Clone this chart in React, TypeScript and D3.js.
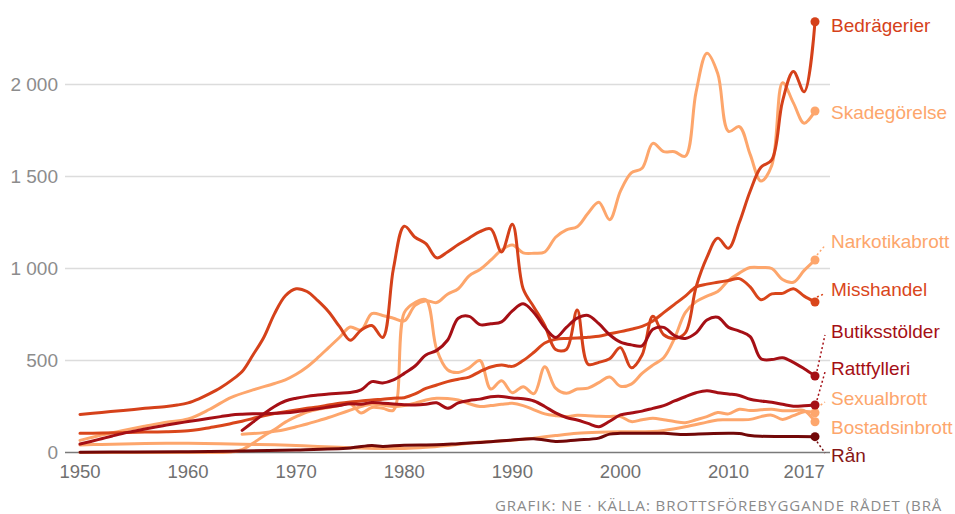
import React from "react";
import * as d3 from "d3";

// ---- Data (brott per 100 000 invånare) ----
const bedragerier: [number, number][] = [
  [1950, 207], [1952, 218], [1954, 228], [1956, 240], [1958, 250], [1959, 258], [1960, 270],
  [1961, 292], [1962, 320], [1963, 352], [1964, 392], [1965, 440], [1966, 530], [1967, 625],
  [1968, 755], [1969, 852], [1970, 890], [1971, 875], [1972, 825], [1973, 765], [1974, 685],
  [1975, 610], [1976, 665], [1977, 690], [1978, 625], [1979, 1000], [1980, 1230], [1981, 1170],
  [1982, 1135], [1983, 1058], [1984, 1090], [1985, 1130], [1986, 1165], [1987, 1200], [1988, 1215],
  [1989, 1090], [1990, 1240], [1991, 890], [1992, 790], [1993, 690], [1994, 560], [1995, 560],
  [1996, 775], [1997, 480], [1998, 490], [1999, 510], [2000, 570], [2001, 460], [2002, 530],
  [2003, 740], [2004, 640], [2005, 620], [2006, 650], [2007, 900], [2008, 1060], [2009, 1165],
  [2010, 1110], [2011, 1250], [2012, 1420], [2013, 1550], [2014, 1590], [2015, 1910], [2016, 2070],
  [2017, 1960], [2018, 2341],
];

const skadegorelse: [number, number][] = [
  [1950, 66], [1952, 95], [1954, 120], [1956, 143], [1958, 165], [1960, 182], [1962, 235],
  [1964, 300], [1966, 340], [1968, 375], [1969, 395], [1970, 425], [1971, 465], [1972, 515],
  [1973, 570], [1974, 625], [1975, 682], [1976, 665], [1977, 755], [1978, 745], [1979, 730],
  [1980, 715], [1981, 800], [1982, 825], [1983, 815], [1984, 860], [1985, 890], [1986, 960],
  [1987, 995], [1988, 1045], [1989, 1100], [1990, 1128], [1991, 1085], [1992, 1083], [1993, 1090],
  [1994, 1170], [1995, 1210], [1996, 1227], [1997, 1300], [1998, 1360], [1999, 1265], [2000, 1420],
  [2001, 1520], [2002, 1545], [2003, 1680], [2004, 1635], [2005, 1635], [2006, 1610], [2007, 1960],
  [2008, 2170], [2009, 2060], [2010, 1745], [2011, 1771], [2012, 1620], [2013, 1475], [2014, 1560],
  [2015, 2010], [2016, 1900], [2017, 1790], [2018, 1856],
];

const narkotikabrott: [number, number][] = [
  [1950, 0], [1955, 0], [1960, 0], [1963, 0], [1964, 3], [1965, 15], [1966, 50], [1967, 90],
  [1968, 125], [1969, 165], [1970, 195], [1971, 220], [1972, 235], [1973, 245], [1974, 255],
  [1975, 265], [1976, 215], [1977, 245], [1978, 240], [1979, 230], [1980, 760], [1981, 815],
  [1982, 830], [1983, 560], [1984, 450], [1985, 435], [1986, 460], [1987, 500], [1988, 345],
  [1989, 390], [1990, 325], [1991, 358], [1992, 320], [1993, 466], [1994, 350], [1995, 322],
  [1996, 345], [1997, 350], [1998, 380], [1999, 410], [2000, 360], [2001, 372], [2002, 430],
  [2003, 475], [2004, 515], [2005, 620], [2006, 760], [2007, 820], [2008, 850], [2009, 875],
  [2010, 935], [2011, 975], [2012, 1005], [2013, 1005], [2014, 1000], [2015, 940], [2016, 925],
  [2017, 990], [2018, 1046],
];

const misshandel: [number, number][] = [
  [1950, 104], [1952, 106], [1954, 108], [1956, 111], [1958, 113], [1960, 118], [1961, 125],
  [1962, 135], [1963, 145], [1964, 158], [1965, 170], [1966, 185], [1967, 200], [1968, 212],
  [1969, 222], [1970, 231], [1971, 240], [1972, 248], [1973, 258], [1974, 268], [1975, 275],
  [1976, 280], [1977, 286], [1978, 290], [1979, 295], [1980, 298], [1981, 318], [1982, 348],
  [1983, 367], [1984, 385], [1985, 398], [1986, 410], [1987, 440], [1988, 465], [1989, 476],
  [1990, 468], [1991, 500], [1992, 545], [1993, 595], [1994, 615], [1995, 620], [1996, 622],
  [1997, 627], [1998, 632], [1999, 645], [2000, 657], [2001, 670], [2002, 685], [2003, 715],
  [2004, 760], [2005, 805], [2006, 850], [2007, 900], [2008, 915], [2009, 925], [2010, 935],
  [2011, 945], [2012, 900], [2013, 830], [2014, 862], [2015, 865], [2016, 890], [2017, 850],
  [2018, 818],
];

const butiksstolder: [number, number][] = [
  [1965, 120], [1966, 165], [1967, 210], [1968, 250], [1969, 280], [1970, 295], [1971, 305],
  [1972, 312], [1973, 318], [1974, 322], [1975, 326], [1976, 340], [1977, 385], [1978, 378],
  [1979, 395], [1980, 430], [1981, 470], [1982, 530], [1983, 555], [1984, 610], [1985, 730],
  [1986, 740], [1987, 695], [1988, 700], [1989, 710], [1990, 770], [1991, 808], [1992, 760],
  [1993, 680], [1994, 625], [1995, 680], [1996, 730], [1997, 745], [1998, 700], [1999, 640],
  [2000, 600], [2001, 585], [2002, 580], [2003, 670], [2004, 680], [2005, 635], [2006, 620],
  [2007, 650], [2008, 720], [2009, 735], [2010, 680], [2011, 660], [2012, 630], [2013, 510],
  [2014, 505], [2015, 515], [2016, 490], [2017, 455], [2018, 416],
];

const rattfylleri: [number, number][] = [
  [1950, 46], [1951, 60], [1952, 75], [1953, 90], [1954, 104], [1955, 116], [1956, 128],
  [1957, 139], [1958, 149], [1959, 159], [1960, 168], [1961, 177], [1962, 186], [1963, 195],
  [1964, 204], [1965, 208], [1966, 210], [1967, 211], [1968, 213], [1969, 216], [1970, 222],
  [1971, 230], [1972, 238], [1973, 247], [1974, 256], [1975, 265], [1976, 262], [1977, 272],
  [1978, 268], [1979, 264], [1980, 260], [1981, 258], [1982, 262], [1983, 270], [1984, 240],
  [1985, 270], [1986, 283], [1987, 290], [1988, 303], [1989, 305], [1990, 296], [1991, 292],
  [1992, 280], [1993, 250], [1994, 215], [1995, 190], [1996, 177], [1997, 158], [1998, 140],
  [1999, 170], [2000, 204], [2001, 215], [2002, 225], [2003, 240], [2004, 255], [2005, 280],
  [2006, 303], [2007, 325], [2008, 336], [2009, 325], [2010, 318], [2011, 310], [2012, 289],
  [2013, 280], [2014, 273], [2015, 262], [2016, 252], [2017, 254], [2018, 258],
];

const sexualbrott: [number, number][] = [
  [1950, 41], [1952, 44], [1955, 48], [1958, 50], [1960, 50], [1963, 48], [1965, 45],
  [1968, 42], [1970, 38], [1972, 33], [1975, 26], [1978, 22], [1980, 22], [1982, 28],
  [1984, 38], [1986, 50], [1987, 57], [1988, 60], [1990, 66], [1992, 78], [1994, 92],
  [1996, 104], [1998, 110], [2000, 113], [2002, 113], [2003, 114], [2004, 120], [2006, 140],
  [2008, 165], [2009, 177], [2010, 178], [2012, 180], [2013, 195], [2014, 203], [2015, 180],
  [2016, 200], [2017, 222], [2018, 216],
];

const bostadsinbrott: [number, number][] = [
  [1965, 99], [1966, 103], [1967, 108], [1968, 115], [1969, 125], [1970, 140], [1971, 155],
  [1972, 172], [1973, 190], [1974, 210], [1975, 230], [1976, 250], [1977, 262], [1978, 258],
  [1979, 250], [1980, 255], [1981, 268], [1982, 285], [1983, 295], [1984, 293], [1985, 285],
  [1986, 265], [1987, 250], [1988, 255], [1989, 262], [1990, 267], [1991, 255], [1992, 232],
  [1993, 210], [1994, 200], [1995, 195], [1996, 202], [1997, 200], [1998, 197], [1999, 196],
  [2000, 195], [2001, 168], [2002, 178], [2003, 186], [2004, 178], [2005, 168], [2006, 162],
  [2007, 178], [2008, 195], [2009, 217], [2010, 210], [2011, 235], [2012, 228], [2013, 232],
  [2014, 235], [2015, 227], [2016, 227], [2017, 228], [2018, 167],
];

const ran: [number, number][] = [
  [1950, 2], [1955, 3], [1960, 4], [1965, 8], [1970, 14], [1975, 25], [1977, 38], [1978, 33],
  [1980, 40], [1983, 42], [1985, 48], [1988, 58], [1990, 68], [1992, 75], [1994, 60], [1996, 68],
  [1998, 78], [1999, 100], [2000, 104], [2002, 104], [2004, 104], [2006, 98], [2008, 102],
  [2010, 104], [2011, 103], [2012, 92], [2013, 88], [2015, 87], [2018, 86],
];

const yTicks = [0, 500, 1000, 1500, 2000];
const xTicks = [1950, 1960, 1970, 1980, 1990, 2000, 2010, 2017];
const footer = "GRAFIK: NE · KÄLLA: BROTTSFÖREBYGGANDE RÅDET (BRÅ";

// ---- Styles ----
const LIGHT = "#fda66c";
const RED = "#d9461b";
const DARK = "#a50f15";
const DARKEST = "#720808";

type Series = {
  name: string;
  data: [number, number][];
  color: string;
  textColor: string;
  labelY: number;
};

const series: Series[] = [
  { name: "Sexualbrott", data: sexualbrott, color: LIGHT, textColor: LIGHT, labelY: 398 },
  { name: "Bostadsinbrott", data: bostadsinbrott, color: LIGHT, textColor: LIGHT, labelY: 427 },
  { name: "Narkotikabrott", data: narkotikabrott, color: LIGHT, textColor: LIGHT, labelY: 241.5 },
  { name: "Skadegörelse", data: skadegorelse, color: LIGHT, textColor: LIGHT, labelY: 112.5 },
  { name: "Misshandel", data: misshandel, color: RED, textColor: RED, labelY: 289.5 },
  { name: "Bedrägerier", data: bedragerier, color: "#d5411a", textColor: "#d5411a", labelY: 25 },
  { name: "Rattfylleri", data: rattfylleri, color: DARK, textColor: DARK, labelY: 368 },
  { name: "Butiksstölder", data: butiksstolder, color: DARK, textColor: DARK, labelY: 331 },
  { name: "Rån", data: ran, color: DARKEST, textColor: "#861616", labelY: 455 },
];

const W = 955;
const H = 514;
const x = d3.scaleLinear().domain([1950, 2018]).range([80, 815]);
const y = d3.scaleLinear().domain([0, 2000]).range([452.5, 84.5]);
const fmt = (v: number) => d3.format(",")(v).replace(/,/g, " ");
const line = d3
  .line<[number, number]>()
  .x((d) => x(d[0]))
  .y((d) => y(d[1]))
  .curve(d3.curveCatmullRom.alpha(0.5));

const FONT = "'Liberation Sans', Arial, sans-serif";

export default function App() {
  const gridX0 = 65;
  const gridX1 = 830;
  const labelX = 831;
  return (
    <svg
      width={W}
      height={H}
      viewBox={`0 0 ${W} ${H}`}
      style={{ position: "absolute", left: 0, top: 0, background: "#fff" }}
    >
      {/* grid */}
      {yTicks.map((t) => (
        <g key={t}>
          <line
            x1={gridX0}
            x2={gridX1}
            y1={y(t)}
            y2={y(t)}
            stroke={t === 0 ? "#7a7a7a" : "#dcdcdc"}
            strokeWidth={1.5}
          />
          <text
            x={58}
            y={y(t)}
            dy="0.36em"
            textAnchor="end"
            fontFamily={FONT}
            fontSize={19}
            fill="#8c8c8c"
          >
            {fmt(t)}
          </text>
        </g>
      ))}
      {xTicks.map((t) => (
        <text
          key={t}
          x={x(t)}
          y={478}
          textAnchor="middle"
          fontFamily={FONT}
          fontSize={18.5}
          fill="#707070"
        >
          {t}
        </text>
      ))}

      {/* lines */}
      {series.map((s) => (
        <path
          key={s.name}
          d={line(s.data) || ""}
          fill="none"
          stroke={s.color}
          strokeWidth={3}
          strokeLinejoin="round"
          strokeLinecap="round"
        />
      ))}

      {/* end dots, leaders, labels */}
      {series.map((s) => {
        const last = s.data[s.data.length - 1];
        const cx = x(last[0]);
        const cy = y(last[1]);
        const dy = s.labelY - cy;
        const needLeader = Math.abs(dy) > 8;
        return (
          <g key={s.name + "-lab"}>
            {needLeader && (
              <line
                x1={cx + 2}
                y1={cy + Math.sign(dy) * 5}
                x2={labelX - 6}
                y2={s.labelY + (dy > 0 ? -2 : 4)}
                stroke={s.color}
                strokeWidth={1.5}
                strokeDasharray="2,2.5"
              />
            )}
            <circle cx={cx} cy={cy} r={4.5} fill={s.color} />
            <text
              x={labelX}
              y={s.labelY}
              dy="0.36em"
              fontFamily={FONT}
              fontSize={19}
              fill={s.textColor}
            >
              {s.name}
            </text>
          </g>
        );
      })}

      <text
        x={495}
        y={511}
        fontFamily="'Open Sans', sans-serif"
        fontSize={15}
        letterSpacing={0.95}
        fill="#8a8a8a"
      >
        {footer}
      </text>
    </svg>
  );
}
